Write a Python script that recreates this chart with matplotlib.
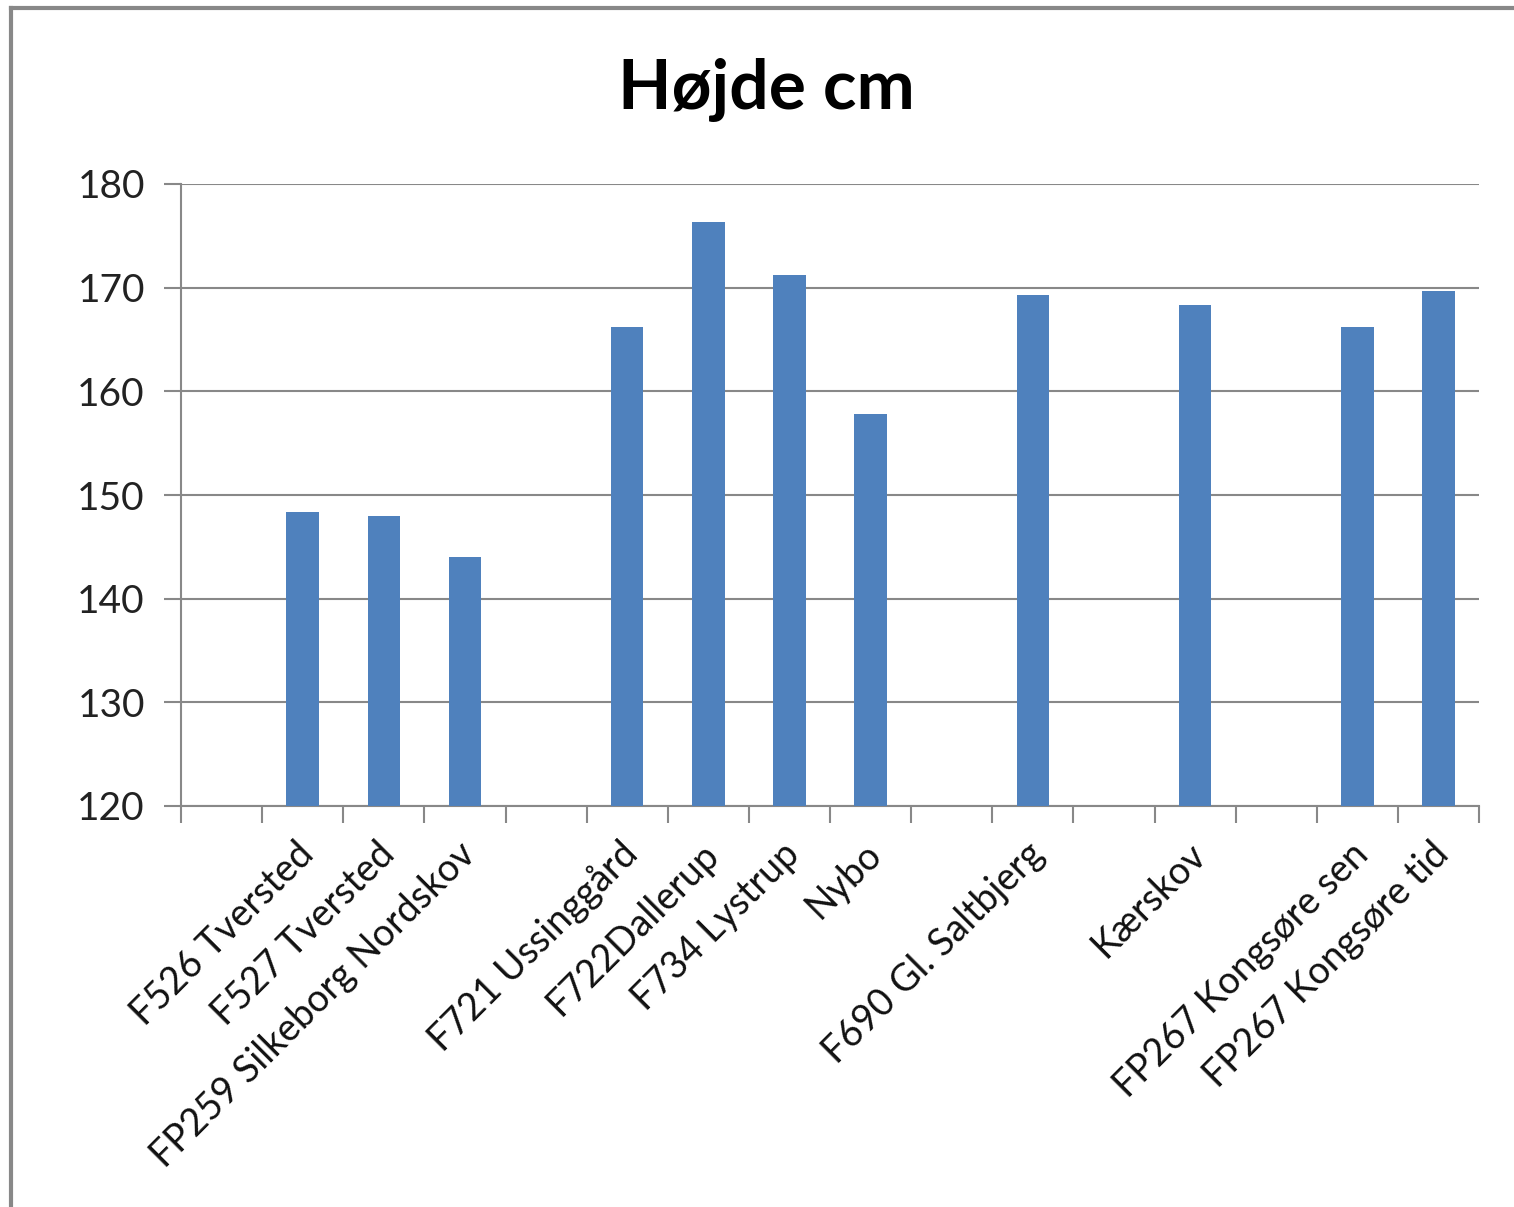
import matplotlib
matplotlib.use("Agg")
import matplotlib.pyplot as plt
import numpy as np
from matplotlib.lines import Line2D

categories = ["", "F526 Tversted", "F527 Tversted", "FP259 Silkeborg Nordskov", "",
              "F721 Ussinggård", "F722Dallerup", "F734 Lystrup", "Nybo", "",
              "F690 Gl. Saltbjerg", "", "Kærskov", "", "FP267 Kongsøre sen", "FP267 Kongsøre tid"]
values = [None, 148.4, 148.0, 144.0, None,
          166.2, 176.3, 171.2, 157.8, None,
          169.3, None, 168.3, None, 166.2, 169.7]
yticks = [120, 130, 140, 150, 160, 170, 180]
title = "Højde cm"

plt.rcParams['font.family'] = ['Lato', 'DejaVu Sans']

fig = plt.figure(figsize=(15.14, 12.07), dpi=100)
ax = fig.add_axes([181/1514, 1-806/1207, (1479-181)/1514, (806-184)/1207])

x = np.arange(len(categories))
bx = [xi for xi, v in zip(x, values) if v is not None]
bv = [v for v in values if v is not None]
ax.bar(bx, [v - 120 for v in bv], bottom=120, width=0.4, color='#4F81BD', zorder=3)

ax.set_xlim(-0.5, len(categories) - 0.5)
ax.set_ylim(120, 180)
ax.set_yticks(yticks)
ax.set_yticklabels([str(t) for t in yticks], fontsize=28, color='#222222')
ax.yaxis.grid(True, color='#888888', linewidth=1.5, zorder=0)
for s in ['top', 'right']:
    ax.spines[s].set_visible(False)
for s in ['left', 'bottom']:
    ax.spines[s].set_color('#888888')
    ax.spines[s].set_linewidth(1.5)
ax.tick_params(axis='y', length=12, width=1.5, color='#888888', pad=14)

# x ticks at category boundaries
ax.set_xticks(np.arange(len(categories) + 1) - 0.5)
ax.set_xticklabels([])
ax.tick_params(axis='x', length=12, width=1.5, color='#888888')

for xi, lab in zip(x, categories):
    if lab:
        ax.text(xi + 0.06, 115.9, lab, rotation=45, rotation_mode='anchor',
                ha='right', va='center', fontsize=27, color='#111111')

fig.text(766/1514, 1-90/1207, title, ha='center', va='center',
         fontsize=50, fontweight='bold', color='black')

# outer border (left and top)
fig.add_artist(Line2D([11/1514, 11/1514], [0, 1-8/1207], transform=fig.transFigure,
                      color='#888888', linewidth=3))
fig.add_artist(Line2D([11/1514, 1], [1-8/1207, 1-8/1207], transform=fig.transFigure,
                      color='#888888', linewidth=3))

fig.savefig("out.png", dpi=100, facecolor='white')
